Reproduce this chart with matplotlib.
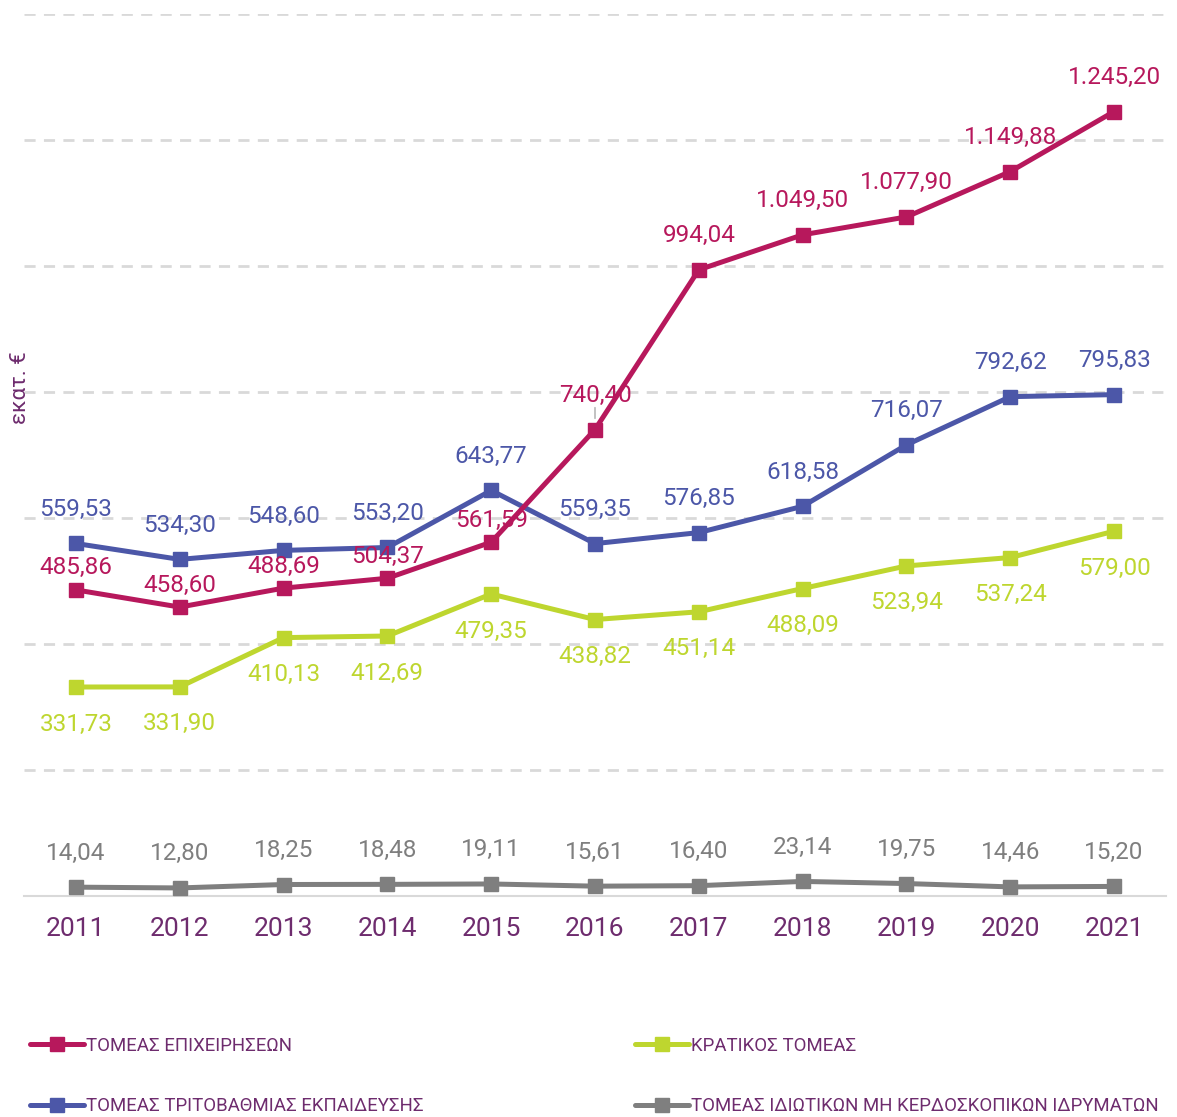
import matplotlib
matplotlib.use("Agg")
import matplotlib.pyplot as plt
import numpy as np

years = ['2011', '2012', '2013', '2014', '2015', '2016', '2017', '2018', '2019', '2020', '2021']
business = [485.86, 458.60, 488.69, 504.37, 561.59, 740.40, 994.04, 1049.50, 1077.90, 1149.88, 1245.20]
tertiary = [559.53, 534.30, 548.60, 553.20, 643.77, 559.35, 576.85, 618.58, 716.07, 792.62, 795.83]
government = [331.73, 331.90, 410.13, 412.69, 479.35, 438.82, 451.14, 488.09, 523.94, 537.24, 579.00]
nonprofit = [14.04, 12.80, 18.25, 18.48, 19.11, 15.61, 16.40, 23.14, 19.75, 14.46, 15.20]

names = ['ΤΟΜΕΑΣ ΕΠΙΧΕΙΡΗΣΕΩΝ', 'ΤΟΜΕΑΣ ΤΡΙΤΟΒΑΘΜΙΑΣ ΕΚΠΑΙΔΕΥΣΗΣ',
         'ΚΡΑΤΙΚΟΣ ΤΟΜΕΑΣ', 'ΤΟΜΕΑΣ ΙΔΙΩΤΙΚΩΝ ΜΗ ΚΕΡΔΟΣΚΟΠΙΚΩΝ ΙΔΡΥΜΑΤΩΝ']

plt.rcParams['font.family'] = ['Roboto', 'DejaVu Sans']

purple = '#6E2C6E'
grid_c = '#d9d9d9'


def gr(v):
    # greek number format 1.245,20
    s = f'{v:,.2f}'
    return s.replace(',', 'X').replace('.', ',').replace('X', '.')


fig = plt.figure(figsize=(11.77, 11.17), dpi=100)
ax = fig.add_axes([24 / 1177, 1 - 896 / 1117, 1142 / 1177, 882 / 1117])

x = np.arange(len(years))
series = [
    (business, '#B7185C', 5, 'above'),
    (tertiary, '#4C57A8', 4, 'above'),
    (government, '#BED62F', 3, 'below'),
    (nonprofit, '#7F7F7F', 3, 'above'),
]
lines = []
for (vals, c, z, pos), nm in zip(series, names):
    ln, = ax.plot(x, vals, color=c, lw=3.6, marker='s', ms=10.5, zorder=z, label=nm,
                  solid_joinstyle='round', solid_capstyle='round')
    lines.append(ln)
    for i, v in enumerate(vals):
        if pos == 'above':
            off = 34
            if vals is business and i < 5:
                off = 22
        else:
            off = -37
        ax.annotate(gr(v), (i, v), xytext=(0, off), textcoords='offset pixels',
                    ha='center', va='center', color=c, fontsize=17.5, zorder=6)

# little leader line at 2016 label
ax.annotate('', (5, 740.40), xytext=(0, 22), textcoords='offset pixels',
            arrowprops=dict(arrowstyle='-', color='#aaaaaa', lw=1, shrinkA=0, shrinkB=8))

ax.set_xlim(-0.5, 10.5)
ax.set_ylim(0, 1400)
ax.set_yticks(np.arange(200, 1401, 200))
ax.yaxis.grid(True, color=grid_c, lw=2, dashes=(4, 3))
ax.tick_params(axis='y', left=False, labelleft=False)
ax.set_xticks(x)
ax.set_xticklabels(years, color=purple, fontsize=19)
ax.tick_params(axis='x', length=0, pad=15)
for s in ['top', 'right', 'left']:
    ax.spines[s].set_visible(False)
ax.spines['bottom'].set_color(grid_c)
ax.spines['bottom'].set_linewidth(1.5)
ax.set_axisbelow(True)

fig.text(20 / 1177, 1 - 388 / 1117, 'εκατ. €', rotation=90, ha='center', va='center',
         color=purple, fontsize=16)

for hs, xl in [([lines[0], lines[1]], 30), ([lines[2], lines[3]], 635)]:
    leg = fig.legend(handles=hs, loc='center left', bbox_to_anchor=(xl / 1177, 1 - 1076 / 1117),
                     frameon=False, fontsize=13.4, borderpad=0, borderaxespad=0,
                     handlelength=2.9, handletextpad=0.12, labelspacing=2.3, markerscale=0.9)
    for t in leg.get_texts():
        t.set_color(purple)

fig.savefig('out.png', dpi=100)
